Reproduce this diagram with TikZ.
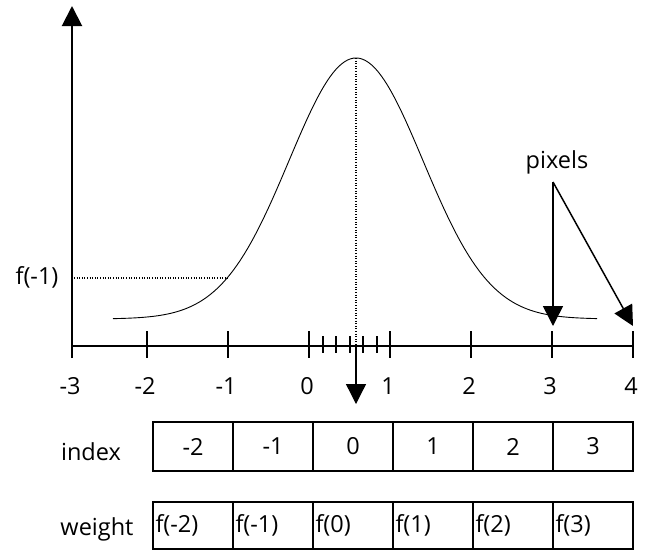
\documentclass[tikz,border=0pt]{standalone}
\usepackage{fontspec}
\setmainfont{Open Sans}
\usetikzlibrary{arrows.meta}
\begin{document}
\begin{tikzpicture}[x=1pt,y=-1pt,
  axis/.style={line width=2pt},
  thinline/.style={line width=0.9pt},
  tri/.style={-{Triangle[width=20pt,length=20pt]}},
  lbl/.style={font=\fontsize{23.5}{27}\selectfont, inner sep=0pt},
  cellbox/.style={draw, line width=2pt, minimum width=80pt, minimum height=49pt, inner sep=0pt, font=\fontsize{23.5}{27}\selectfont},
  wcellbox/.style={cellbox, minimum height=47pt, text width=75pt, align=left},
  dots/.style={line width=1.2pt, dash pattern=on 1pt off 1.6pt}
]
\useasboundingbox (0,0) rectangle (646,550);
% axes
\coordinate (Obot) at (72,358);
\coordinate (O) at (72,346);
\coordinate (Ytop) at (72,6);
\coordinate (Xend) at (633,346);
\draw[axis, tri] (Obot) -- (Ytop);
\draw[axis] (O) -- (Xend);
% major ticks with labels
\foreach \xx/\t [count=\k] in {147/-2,228/-1,309/0,390/1,471/2,552/3,633/4}{
  \coordinate (ta\k) at (\xx,331);
  \coordinate (tb\k) at (\xx,358);
  \draw[axis] (ta\k) -- (tb\k);
  \node[lbl] (tl\k) at (\xx-2,386) {\t};
}
\node[lbl] (tl0) at (70,386) {-3};
% minor ticks
\foreach \k in {1,...,5}{
  \coordinate (ma\k) at (309+13.5*\k,336);
  \coordinate (mb\k) at (309+13.5*\k,353);
  \draw[line width=2pt] (ma\k) -- (mb\k);
}
% gaussian curve
\draw[thinline] plot[domain=113:597, samples=160, smooth] (\x, {319 - 261*exp(-0.5*((\x-356)/67)^2)});
% centre line
\coordinate (peak) at (356,58);
\coordinate (ctr) at (356,346);
\coordinate (ctrdown) at (356,404);
\draw[dots] (peak) -- (ctr);
\draw[line width=1.3pt, tri] (ctr) -- (ctrdown);
% f(-1)
\node[lbl] (fm1) at (37,277) {f(-1)};
\coordinate (fa) at (74,278);
\coordinate (fb) at (229,278);
\draw[dots] (fa) -- (fb);
% pixels
\node[lbl] (pix) at (557,162) {pixels};
\coordinate (P) at (553,182);
\coordinate (P3) at (553,326);
\coordinate (P4) at (633,326);
\draw[line width=1.5pt, tri] (P) -- (P3);
\draw[line width=1.5pt, tri] (P) -- (P4);
% index row
\node[lbl] (indexlbl) at (91,452) {index};
\foreach \t [count=\k] in {-2,-1,0,1,2,3}{
  \node[cellbox] (ic\k) at (153+80*\k-40,446.5) {\t};
}
% weight row
\node[lbl] (weightlbl) at (97,529) {weight};
\foreach \t [count=\k] in {f(-2),f(-1),f(0),f(1),f(2),f(3)}{
  \node[wcellbox] (wc\k) at (153+80*\k-40,525.5) {\raisebox{-3pt}{\t}};
}
\end{tikzpicture}
\end{document}
